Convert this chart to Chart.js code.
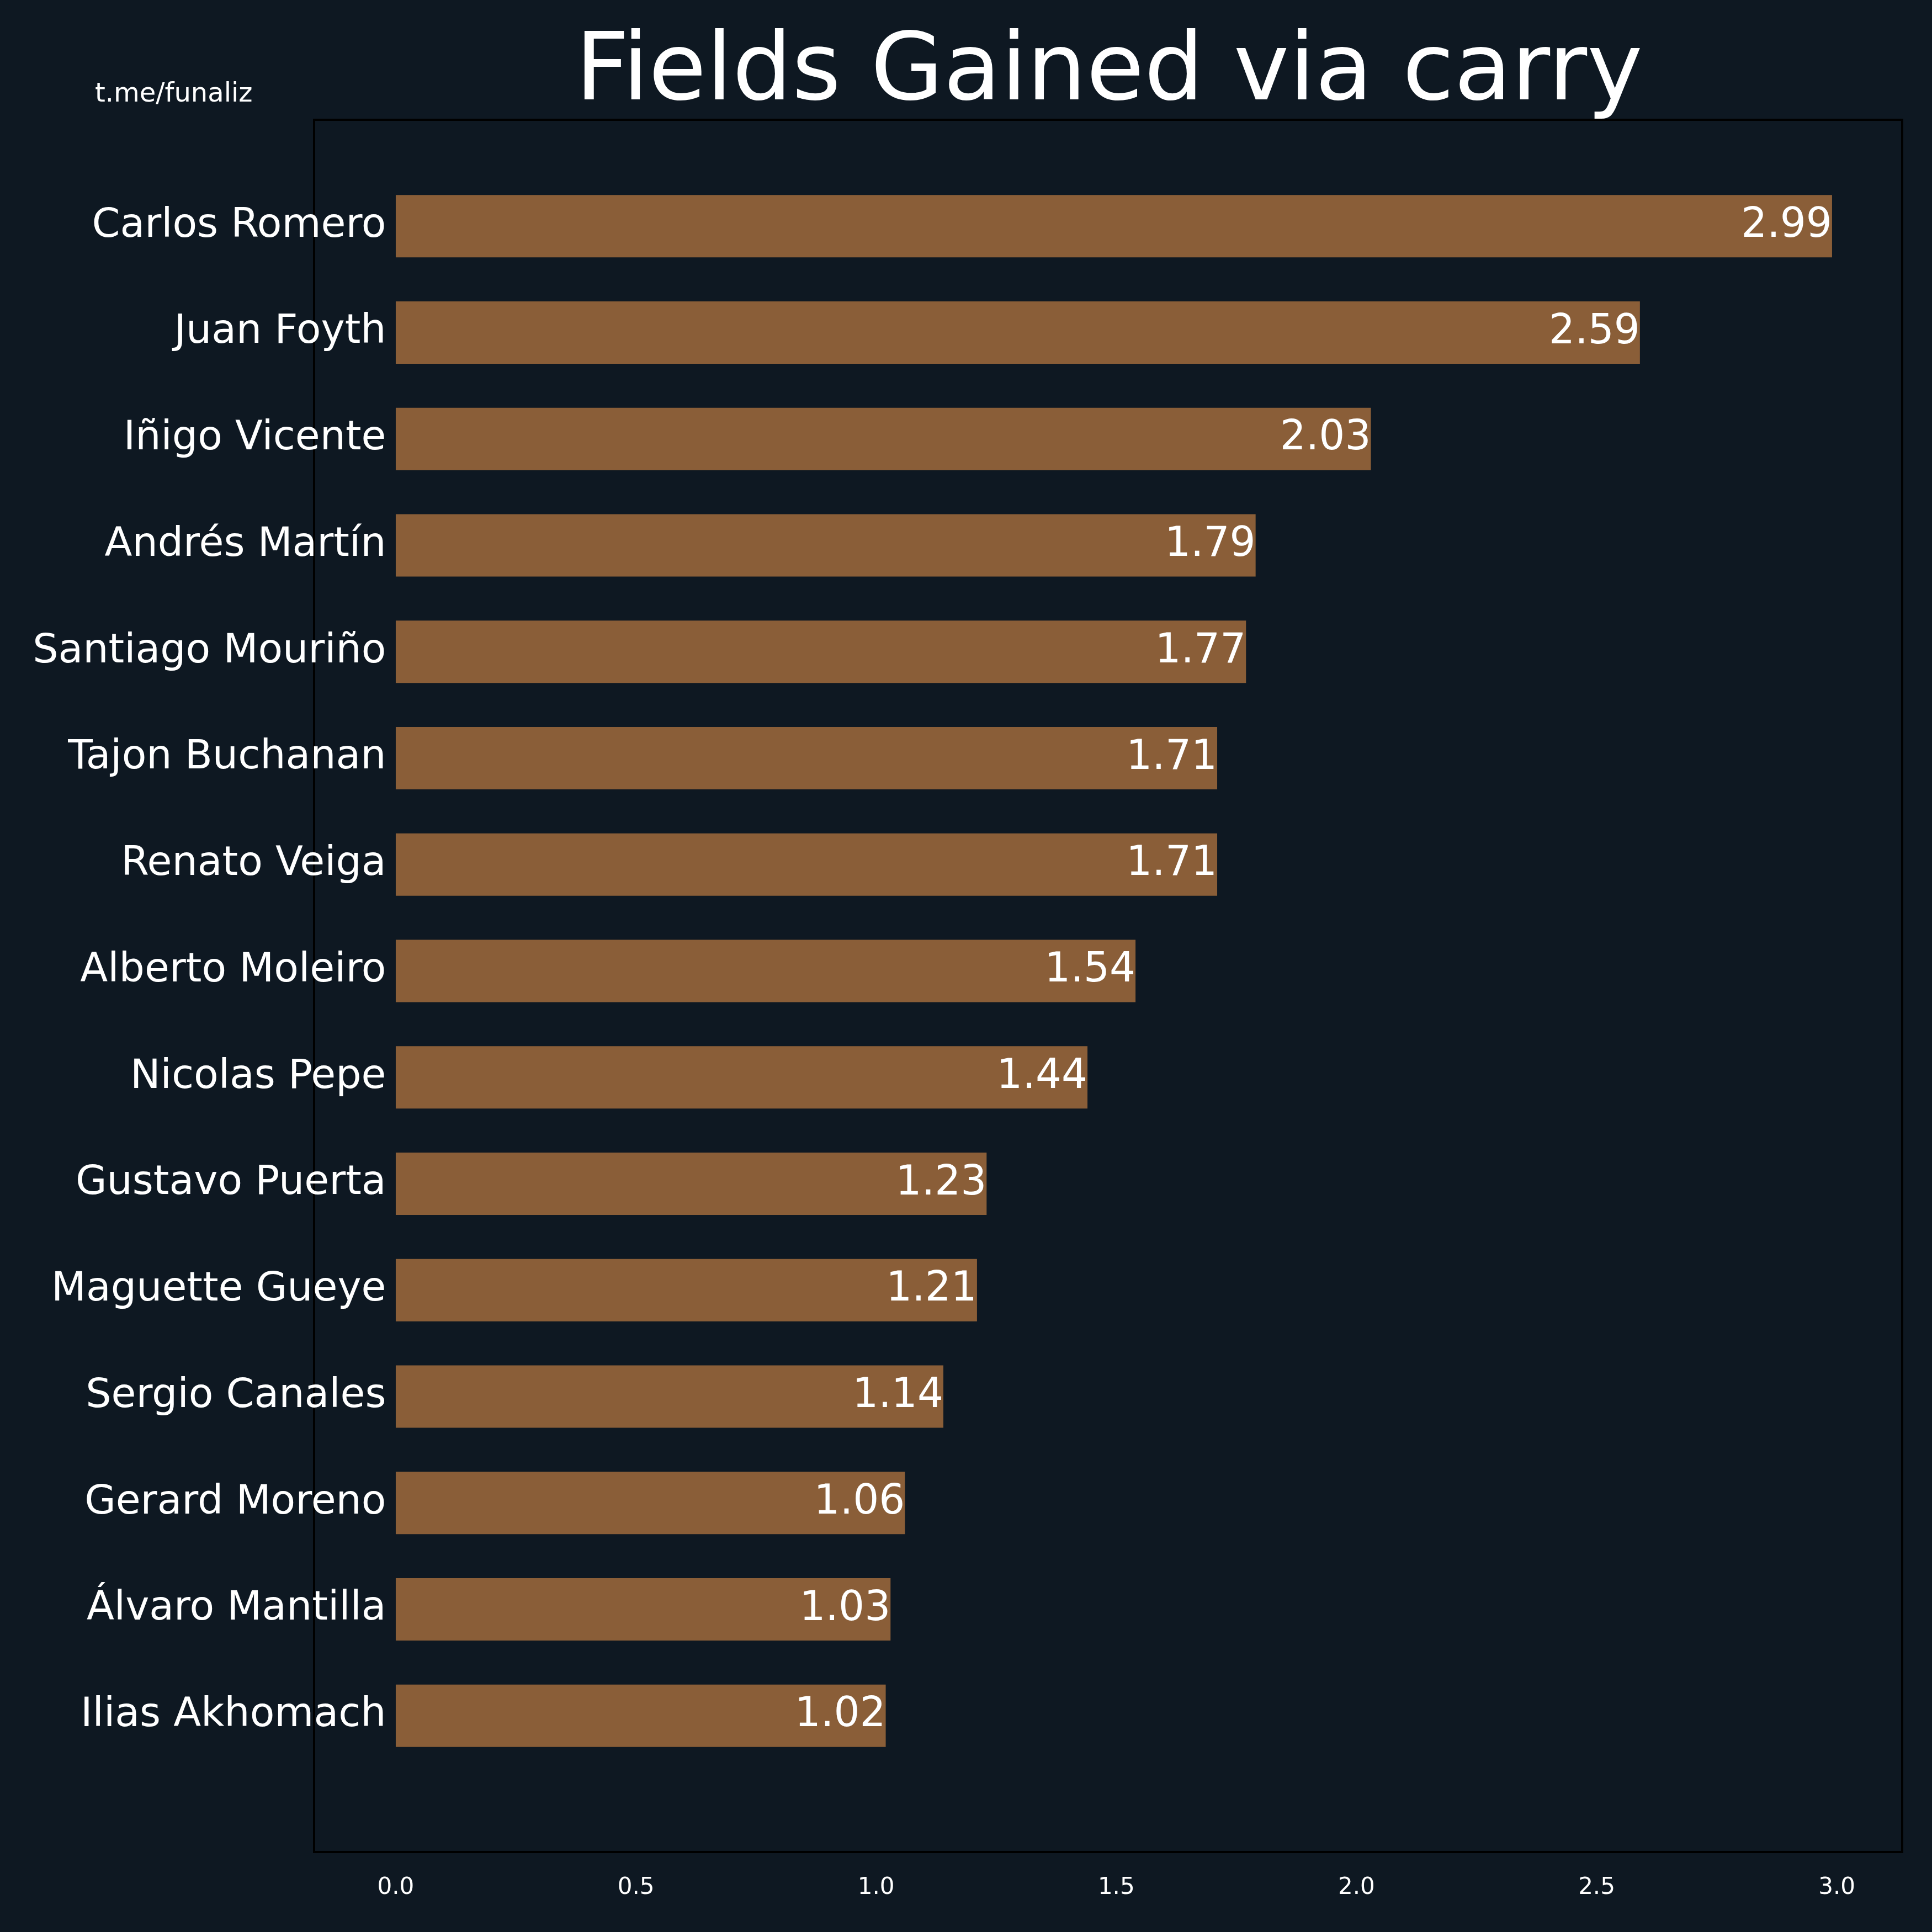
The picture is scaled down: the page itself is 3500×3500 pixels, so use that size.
<!DOCTYPE html>
<html>
<head>
<meta charset="utf-8">
<script src="https://cdn.jsdelivr.net/npm/chart.js@4"></script>
<style>
  body { margin: 0; background: #0e1822; }
</style>
</head>
<body>
<canvas id="chart" width="3500" height="3500"></canvas>
<script>
const players = ['Carlos Romero', 'Juan Foyth', 'Iñigo Vicente', 'Andrés Martín', 'Santiago Mouriño',
  'Tajon Buchanan', 'Renato Veiga', 'Alberto Moleiro', 'Nicolas Pepe', 'Gustavo Puerta',
  'Maguette Gueye', 'Sergio Canales', 'Gerard Moreno', 'Álvaro Mantilla', 'Ilias Akhomach'];
const carry_values = [2.99, 2.59, 2.03, 1.79, 1.77, 1.71, 1.71, 1.54, 1.44, 1.23, 1.21, 1.14, 1.06, 1.03, 1.02];
const x_ticks = [0, 0.5, 1.0, 1.5, 2.0, 2.5, 3.0];

const FONT = '"DejaVu Sans", sans-serif';

// frame, labels, title drawn on top of the chart
const decor = {
    id: 'decor',
    afterDatasetsDraw(chart) {
        const ctx = chart.ctx;
        const area = chart.chartArea;
        const xs = chart.scales.x;
        const ys = chart.scales.y;
        ctx.save();
        ctx.strokeStyle = '#000000';
        ctx.lineWidth = 4;
        ctx.strokeRect(area.left, area.top, area.right - area.left, area.bottom - area.top);

        ctx.fillStyle = '#ffffff';
        ctx.textBaseline = 'middle';
        for (var i in players) {
            const y = ys.getPixelForValue(Number(i));
            ctx.textAlign = 'right';
            ctx.font = '73px ' + FONT;
            ctx.fillText(players[i], xs.getPixelForValue(-0.02), y);
            ctx.font = '74px ' + FONT;
            ctx.fillText(carry_values[i].toFixed(2), xs.getPixelForValue(carry_values[i]), y);
        }

        ctx.textAlign = 'center';
        ctx.textBaseline = 'top';
        ctx.font = '42px ' + FONT;
        for (const t of x_ticks) {
            ctx.fillText(t.toFixed(1), xs.getPixelForValue(t), area.bottom + 44);
        }

        ctx.textBaseline = 'middle';
        ctx.font = '170px ' + FONT;
        ctx.fillText('Fields Gained via carry', 2009, 136);

        ctx.textAlign = 'left';
        ctx.font = '48px ' + FONT;
        ctx.fillText('t.me/funaliz', 172, 172);
        ctx.restore();
    }
};

new Chart(document.getElementById('chart'), {
    type: 'bar',
    data: {
        datasets: [{
            data: carry_values.map((v, i) => ({x: v, y: i})),
            backgroundColor: '#8a5e38',
            borderWidth: 0,
            barPercentage: 0.587,
            categoryPercentage: 1
        }]
    },
    options: {
        indexAxis: 'y',
        responsive: false,
        devicePixelRatio: 1,
        animation: false,
        layout: { padding: { left: 569, right: 54, top: 217, bottom: 145 } },
        scales: {
            x: { type: 'linear', min: -0.17, max: 3.136, display: false, offset: false },
            y: { type: 'linear', min: -1, max: 15.28, reverse: true, display: false, offset: false }
        },
        plugins: {
            legend: { display: false },
            tooltip: { enabled: false }
        }
    },
    plugins: [decor]
});
</script>
</body>
</html>
